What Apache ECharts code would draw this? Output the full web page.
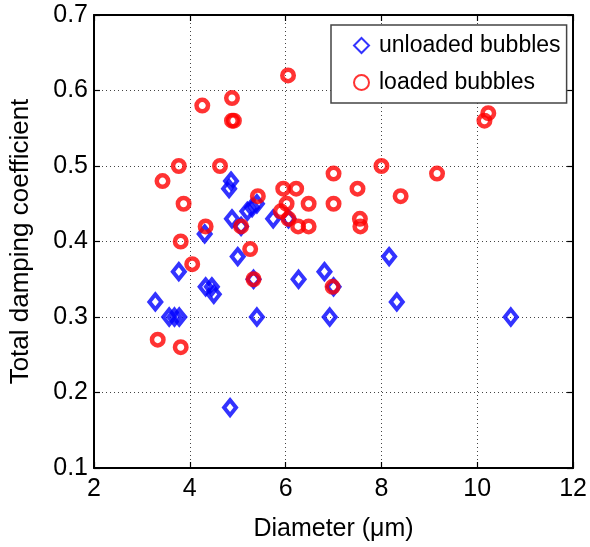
<!DOCTYPE html>
<html>
<head>
<meta charset="utf-8">
<script src="https://cdn.jsdelivr.net/npm/echarts@6/dist/echarts.min.js"></script>
<style>
  html, body { margin: 0; padding: 0; background: #fff; }
  #chart { width: 590px; height: 547px; }
</style>
</head>
<body>
<div id="chart"></div>
<script>
// diameter (um) / damping coefficient
const unloadedX = [3.28, 3.57, 3.68, 3.78, 3.77, 4.31, 4.33, 4.46, 4.50, 4.84, 4.82, 4.86, 4.88, 5.00, 5.07, 5.20, 5.30, 5.40, 5.33, 5.40, 5.74, 6.06, 6.27, 6.81, 6.92, 7.00, 8.16, 8.32, 10.70];
const unloadedY = [0.32, 0.30, 0.30, 0.30, 0.36, 0.41, 0.34, 0.34, 0.33, 0.18, 0.47, 0.48, 0.43, 0.38, 0.42, 0.44, 0.445, 0.45, 0.35, 0.30, 0.43, 0.43, 0.35, 0.36, 0.30, 0.34, 0.38, 0.32, 0.30];

const loadedX = [3.33, 3.43, 3.77, 3.81, 3.81, 3.87, 4.05, 4.26, 4.33, 4.63, 4.88, 4.88, 4.92, 5.07, 5.26, 5.33, 5.42, 5.90, 5.95, 6.02, 6.05, 6.06, 6.22, 6.26, 6.48, 6.48, 6.98, 7.00, 7.00, 7.50, 7.55, 7.56, 8.00, 8.40, 9.16, 10.15, 10.23];
const loadedY = [0.27, 0.48, 0.50, 0.40, 0.26, 0.45, 0.37, 0.58, 0.42, 0.50, 0.59, 0.56, 0.56, 0.42, 0.39, 0.35, 0.46, 0.44, 0.47, 0.45, 0.62, 0.43, 0.47, 0.42, 0.45, 0.42, 0.34, 0.49, 0.45, 0.47, 0.43, 0.42, 0.50, 0.46, 0.49, 0.56, 0.57];

const xTicks = [2, 4, 6, 8, 10, 12];
const yTicks = [0.1, 0.2, 0.3, 0.4, 0.5, 0.6, 0.7];

const font = "'Liberation Sans', Arial, sans-serif";

function pairs(xs, ys) {
  return xs.map((x, i) => [x, ys[i]]);
}

const chart = echarts.init(document.getElementById("chart"));

const tickStyle = { inside: true, length: 6, lineStyle: { color: "#000", width: 1.2 } };
const lineStyle = { show: true, lineStyle: { color: "#000", width: 2 } };

chart.setOption({
  animation: false,
  backgroundColor: "#fff",
  grid: { left: 92, right: 16, top: 15, bottom: 74 },
  legend: {
    orient: "vertical",
    left: 331,
    top: 25,
    width: 236,
    padding: [9, 6, 9, 22],
    itemGap: 14,
    itemWidth: 15,
    itemHeight: 15,
    backgroundColor: "#fff",
    borderColor: "#444",
    borderWidth: 1.5,
    textStyle: { fontFamily: font, fontSize: 23, color: "#000", lineHeight: 23, padding: [0, 0, 0, 5] },
    data: ["unloaded bubbles", "loaded bubbles"]
  },
  xAxis: [
    {
      type: "value",
      min: xTicks[0],
      max: xTicks[xTicks.length - 1],
      interval: 2,
      name: "Diameter (\u03bcm)",
      nameLocation: "middle",
      nameGap: 49,
      nameTextStyle: { fontFamily: font, fontSize: 25, color: "#000" },
      axisLine: lineStyle,
      axisTick: tickStyle,
      axisLabel: { fontFamily: font, fontSize: 25, color: "#000", margin: 9 },
      splitLine: { show: true, lineStyle: { color: "#444", type: [1, 3], width: 1 } }
    },
    {
      type: "value",
      position: "top",
      min: xTicks[0],
      max: xTicks[xTicks.length - 1],
      interval: 2,
      axisLine: lineStyle,
      axisTick: tickStyle,
      axisLabel: { show: false },
      splitLine: { show: false }
    }
  ],
  yAxis: [
    {
      type: "value",
      min: yTicks[0],
      max: yTicks[yTicks.length - 1],
      interval: 0.1,
      name: "Total damping coefficient",
      nameLocation: "middle",
      nameGap: 60,
      nameTextStyle: { fontFamily: font, fontSize: 26, color: "#000" },
      axisLine: lineStyle,
      axisTick: tickStyle,
      axisLabel: {
        fontFamily: font, fontSize: 25, color: "#000", margin: 6,
        formatter: (v) => v.toFixed(1)
      },
      splitLine: { show: true, lineStyle: { color: "#444", type: [1, 3], width: 1 } }
    },
    {
      type: "value",
      position: "right",
      min: yTicks[0],
      max: yTicks[yTicks.length - 1],
      interval: 0.1,
      axisLine: lineStyle,
      axisTick: tickStyle,
      axisLabel: { show: false },
      splitLine: { show: false }
    }
  ],
  series: [
    {
      name: "unloaded bubbles",
      type: "scatter",
      symbol: "diamond",
      symbolSize: [12, 15],
      itemStyle: { color: "rgba(255,255,255,0)", borderColor: "#0000ff", borderWidth: 4 },
      data: pairs(unloadedX, unloadedY)
    },
    {
      name: "loaded bubbles",
      type: "scatter",
      symbol: "circle",
      symbolSize: 11.5,
      itemStyle: { color: "rgba(255,255,255,0)", borderColor: "#ff0000", borderWidth: 4.5 },
      data: pairs(loadedX, loadedY)
    }
  ]
});
</script>
</body>
</html>
